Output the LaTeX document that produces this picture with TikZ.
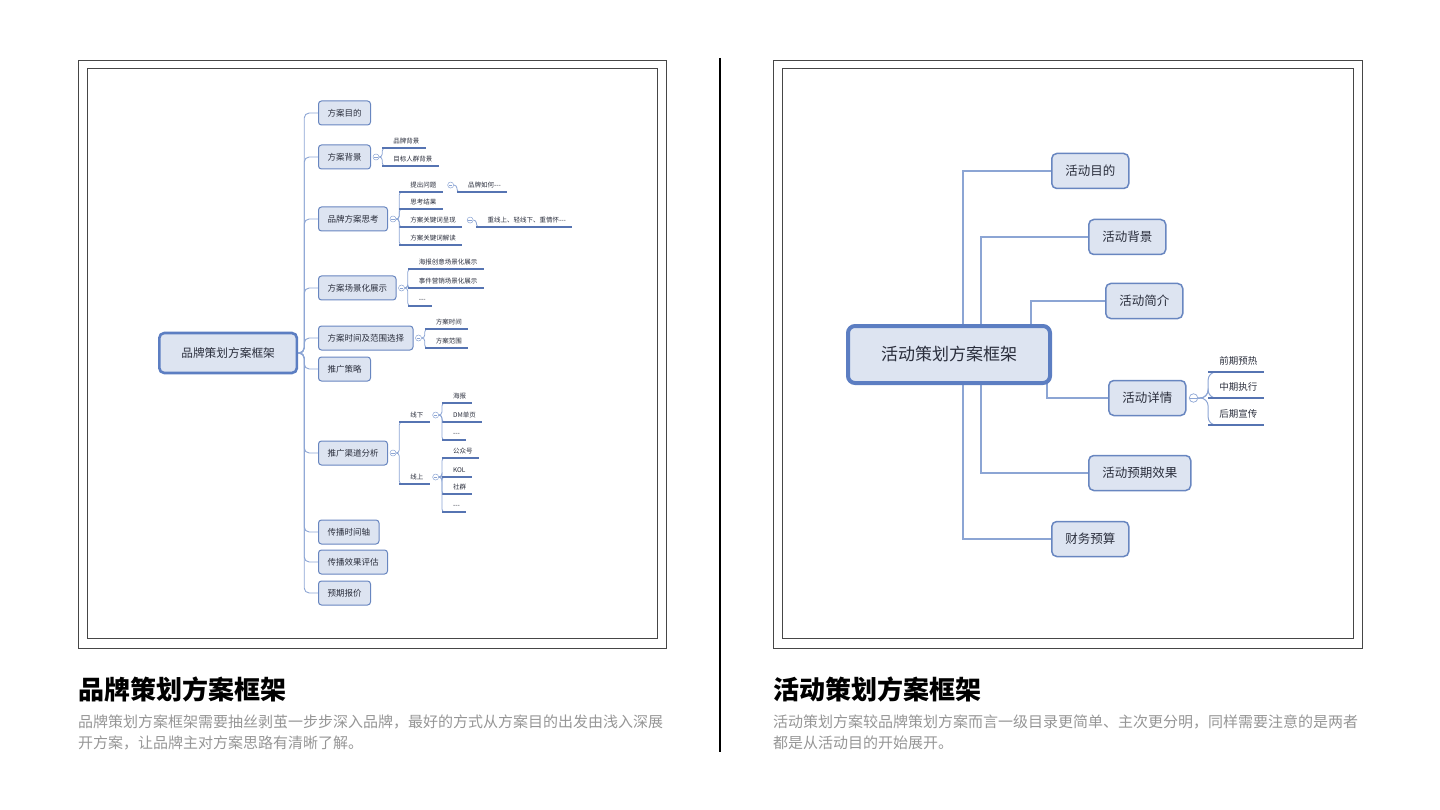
\documentclass[tikz,border=0pt]{standalone}
\usepackage{fontspec}
\setmainfont{Noto Sans CJK SC}
\usetikzlibrary{
    positioning,
    backgrounds
}
\definecolor{ink}{RGB}{42,46,60}
\definecolor{framegray}{RGB}{70,70,70}
\definecolor{boxfill}{RGB}{221,228,241}
\definecolor{boxline}{RGB}{104,134,192}
\definecolor{rootline}{RGB}{92,126,194}
\definecolor{branchblue}{RGB}{140,165,212}
\definecolor{ulineblue}{RGB}{86,116,178}
\definecolor{captiongray}{RGB}{150,150,150}
\tikzset{
    line cap=round,
    line join=round,
    panelframe/.style={draw=framegray, line width=0.9pt},
    divider/.style={draw=black, line width=1.4pt},
    topic/.style={
        rectangle,
        anchor=west,
        draw=boxline,
        line width=1pt,
        fill=boxfill,
        rounded corners=3pt,
        text=ink,
        inner xsep=9pt,
        inner ysep=0pt,
        minimum height=24pt,
        font=\fontsize{8.5}{10}\selectfont
    },
    lroot/.style={
        topic,
        draw=rootline,
        line width=2.6pt,
        rounded corners=5pt,
        inner xsep=22pt,
        minimum height=40pt,
        font=\fontsize{11.7}{14}\selectfont
    },
    rtopic/.style={
        topic,
        line width=1.5pt,
        rounded corners=5pt,
        inner xsep=13.5pt,
        minimum height=35pt,
        font=\fontsize{12.5}{15}\selectfont
    },
    rroot/.style={
        topic,
        draw=rootline,
        line width=4pt,
        rounded corners=7pt,
        inner xsep=33pt,
        minimum height=57pt,
        font=\fontsize{17}{20}\selectfont
    },
    leaf/.style={
        anchor=south west,
        xshift=5pt,
        inner xsep=6pt,
        inner ysep=3.5pt,
        text height=5.5pt,
        text depth=1pt,
        text=ink,
        font=\fontsize{6.5}{8}\selectfont
    },
    rleaf/.style={
        leaf,
        inner ysep=6pt,
        text height=8pt,
        text depth=1.5pt,
        font=\fontsize{9.5}{11}\selectfont
    },
    knob/.style={
        circle,
        draw=branchblue,
        fill=white,
        line width=0.5pt,
        minimum size=6pt,
        inner sep=0pt,
        path picture={
            \draw[branchblue, line width=0.5pt]
                ([xshift=1.2pt]path picture bounding box.west) --
                ([xshift=-1.2pt]path picture bounding box.east);
        }
    },
    rknob/.style={knob, minimum size=8.5pt, line width=0.7pt},
    link/.style={draw=branchblue, line width=0.9pt, rounded corners=5pt},
    rlink/.style={draw=branchblue, line width=1.2pt},
    fork/.style={draw=branchblue, line width=0.8pt, rounded corners=3pt},
    rfork/.style={fork, line width=1pt, rounded corners=8pt},
    underl/.style={draw=ulineblue, line width=1.3pt},
    rline/.style={draw=ulineblue, line width=2pt},
    title/.style={
        anchor=base west,
        inner sep=0pt,
        text=black,
        font=\fontsize{26}{30}\selectfont\bfseries
    },
    caption/.style={
        inner sep=0pt,
        align=left,
        text=captiongray,
        font=\fontsize{15}{21}\selectfont
    }
}

\begin{document}
\begin{tikzpicture}[x=1pt, y=-1pt]
\useasboundingbox (0,0) rectangle (1440,810);

% Panel frames and divider
\draw[panelframe] (78,60) rectangle (666,648);
\draw[panelframe] (87,68) rectangle (657,638);
\draw[panelframe] (773,60) rectangle (1362,648);
\draw[panelframe] (782,68) rectangle (1353,638);
\draw[divider] (720,58) -- (720,752);

% ---------------- Left map: brand plan ----------------
\node[lroot] (lmain) at (158,353) {品牌策划方案框架};

\foreach \i/\y/\txt in {1/113/方案目的, 2/157/方案背景, 3/219/品牌方案思考,
    4/288/方案场景化展示, 5/338/方案时间及范围选择, 6/369/推广策略,
    7/453/推广渠道分析, 8/532/传播时间轴, 9/562/传播效果评估, 10/593/预期报价}{
    \node[topic] (lt\i) at (318,\y) {\txt};
    \draw[link] (lmain.east) -- ++(6,0) |- (lt\i.west);
}

% Collapse knobs
\foreach \i in {2,3,4,5,7}{
    \node[knob] (k\i) at ([xshift=5pt]lt\i.east) {};
    \coordinate (f\i) at ([xshift=3pt]k\i.east);
}

% Background
\foreach \nm/\y/\txt in {21/148/品牌背景, 22/166/目标人群背景}{
    \node[leaf] (l\nm) at (f2 |- 0,\y) {\txt};
    \draw[fork] (k2.east) -- (f2) |- (l\nm.south west);
    \draw[underl] (l\nm.south -| f2) -- (l\nm.south east);
}

% Thinking
\foreach \nm/\y/\txt in {31/192/提出问题, 32/209/思考结果,
    33/227/方案关键词呈现, 34/245/方案关键词解读}{
    \node[leaf] (l\nm) at (f3 |- 0,\y) {\txt};
    \draw[fork] (k3.east) -- (f3) |- (l\nm.south west);
    \draw[underl] (l\nm.south -| f3) -- (l\nm.south east);
}
\foreach \nm/\txt in {31/品牌如何-{}-{}-, 33/重线上、轻线下、重情怀-{}-{}-}{
    \node[knob] (k\nm) at ([xshift=8pt]l\nm.east) {};
    \coordinate (f\nm) at ([xshift=3pt]k\nm.east);
    \node[leaf] (l\nm1) at (f\nm |- l\nm.south) {\txt};
    \draw[fork] (k\nm.east) -- (f\nm) |- (l\nm1.south west);
    \draw[underl] (l\nm1.south -| f\nm) -- (l\nm1.south east);
}

% Scenes
\foreach \nm/\y/\txt in {41/269/海报创意场景化展示, 42/288/事件营销场景化展示,
    43/306/-{}-{}-}{
    \node[leaf] (l\nm) at (f4 |- 0,\y) {\txt};
    \draw[fork] (k4.east) -- (f4) |- (l\nm.south west);
    \draw[underl] (l\nm.south -| f4) -- (l\nm.south east);
}

% Time and range
\foreach \nm/\y/\txt in {51/329/方案时间, 52/348/方案范围}{
    \node[leaf] (l\nm) at (f5 |- 0,\y) {\txt};
    \draw[fork] (k5.east) -- (f5) |- (l\nm.south west);
    \draw[underl] (l\nm.south -| f5) -- (l\nm.south east);
}

% Channels
\foreach \nm/\y/\txt in {71/422/线下, 72/484/线上}{
    \node[leaf] (l\nm) at (f7 |- 0,\y) {\txt};
    \draw[fork] (k7.east) -- (f7) |- (l\nm.south west);
    \draw[underl] (l\nm.south -| f7) -- (l\nm.south east);
    \node[knob] (k\nm) at ([xshift=6pt]l\nm.east) {};
    \coordinate (f\nm) at ([xshift=3pt]k\nm.east);
}
\foreach \nm/\y/\txt in {711/403/海报, 712/422/DM单页, 713/440/-{}-{}-}{
    \node[leaf] (l\nm) at (f71 |- 0,\y) {\txt};
    \draw[fork] (k71.east) -- (f71) |- (l\nm.south west);
    \draw[underl] (l\nm.south -| f71) -- (l\nm.south east);
}
\foreach \nm/\y/\txt in {721/458/公众号, 722/477/KOL, 723/494/社群, 724/512/-{}-{}-}{
    \node[leaf] (l\nm) at (f72 |- 0,\y) {\txt};
    \draw[fork] (k72.east) -- (f72) |- (l\nm.south west);
    \draw[underl] (l\nm.south -| f72) -- (l\nm.south east);
}

% ---------------- Right map: event plan ----------------
\node[rtopic] (rt1) at (1051,171) {活动目的};
\node[rtopic] (rt2) at (1088,237) {活动背景};
\node[rtopic] (rt3) at (1105,301) {活动简介};
\node[rtopic] (rt4) at (1108,398) {活动详情};
\node[rtopic] (rt5) at (1088,473) {活动预期效果};
\node[rtopic] (rt6) at (1051,539) {财务预算};
\node[rroot] (rmain) at (846,354.5) {活动策划方案框架};

\coordinate (rail1) at (963,354);
\coordinate (rail2) at (981,354);
\coordinate (rx3) at (1031,0);
\coordinate (rx4) at (1047,0);

\begin{scope}[on background layer]
    \draw[rlink] (rt1.west) -| (rail1) |- (rt6.west);
    \draw[rlink] (rt2.west) -| (rail2) |- (rt5.west);
    \draw[rlink] (rt3.west) -| (rmain.center -| rx3);
    \draw[rlink] (rt4.west) -| (rmain.center -| rx4);
\end{scope}

\node[rknob] (kr) at ([xshift=7pt]rt4.east) {};
\coordinate (fr) at ([xshift=10pt]kr.east);
\foreach \nm/\y/\txt in {1/372/前期预热, 2/398/中期执行, 3/425/后期宣传}{
    \node[rleaf] (rl\nm) at (fr |- 0,\y) {\txt};
    \draw[rfork] (kr.east) -- (fr) |- (rl\nm.south west);
    \draw[rline] (rl\nm.south -| fr) -- (rl\nm.south east);
}

% ---------------- Titles and captions ----------------
\node[title] (ltitle) at (78,699) {品牌策划方案框架};
\node[caption, below=16pt of ltitle.base west, anchor=north west] (lcap)
    {品牌策划方案框架需要抽丝剥茧一步步深入品牌，最好的方式从方案目的出发由浅入深展\\
     开方案，让品牌主对方案思路有清晰了解。};

\node[title] (rtitle) at (773,699) {活动策划方案框架};
\node[caption, below=16pt of rtitle.base west, anchor=north west] (rcap)
    {活动策划方案较品牌策划方案而言一级目录更简单、主次更分明，同样需要注意的是两者\\
     都是从活动目的开始展开。};

\end{tikzpicture}
\end{document}
